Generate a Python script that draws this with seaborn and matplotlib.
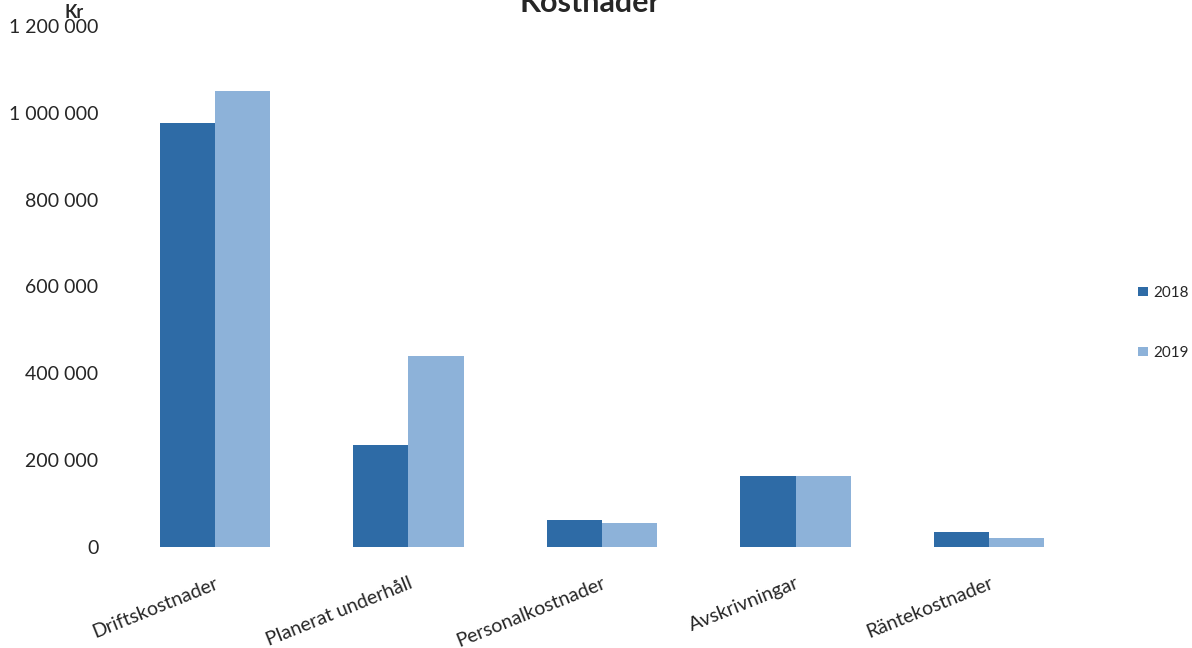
import matplotlib
matplotlib.use("Agg")
import matplotlib.pyplot as plt
import seaborn as sns
import pandas as pd
from matplotlib.ticker import FuncFormatter

categories = ["Driftskostnader", "Planerat underhåll", "Personalkostnader",
              "Avskrivningar", "Räntekostnader"]
years = ["2018", "2019"]
values_2018 = [977000, 235000, 61000, 164000, 34000]
values_2019 = [1051000, 440000, 54000, 164000, 21000]

df = pd.DataFrame({
    "Kategori": categories * 2,
    "År": [years[0]] * len(categories) + [years[1]] * len(categories),
    "Kr": values_2018 + values_2019,
})

sns.set_style("white")
plt.rcParams["font.family"] = ["Lato", "DejaVu Sans"]

fig = plt.figure(figsize=(11.92, 6.48), dpi=100)
ax = fig.add_axes([0.099, 0.156, 0.812, 0.804])

sns.barplot(data=df, x="Kategori", y="Kr", hue="År", order=categories,
            hue_order=years, palette=["#2E6BA6", "#8DB2D9"], width=0.57,
            gap=0, saturation=1, linewidth=0, ax=ax)

ax.set_ylim(0, 1200000)
ax.set_xlim(-0.5, 4.5)
ax.set_yticks(range(0, 1200001, 200000))
ax.yaxis.set_major_formatter(FuncFormatter(lambda v, p: f"{int(v):,}".replace(",", " ")))
ax.tick_params(axis="y", labelsize=14, length=0, pad=14)
ax.tick_params(axis="x", labelsize=14, length=0, pad=20)
plt.setp(ax.get_xticklabels(), rotation=22, ha="right", rotation_mode="anchor")
ax.set_xlabel("")
ax.set_ylabel("")
sns.despine(ax=ax, left=True, bottom=True)

ax.legend(loc="center left", bbox_to_anchor=(1.04, 0.43), frameon=False,
          fontsize=11, labelspacing=3.0, handlelength=0.6, handleheight=0.6,
          handletextpad=0.4)

fig.text(0.054, 0.98, "Kr", fontsize=13, fontweight="bold", ha="left", va="center")
fig.text(0.495, 0.995, "Kostnader", fontsize=22, fontweight="bold", ha="center", va="center")

fig.savefig("out.png", dpi=100)
